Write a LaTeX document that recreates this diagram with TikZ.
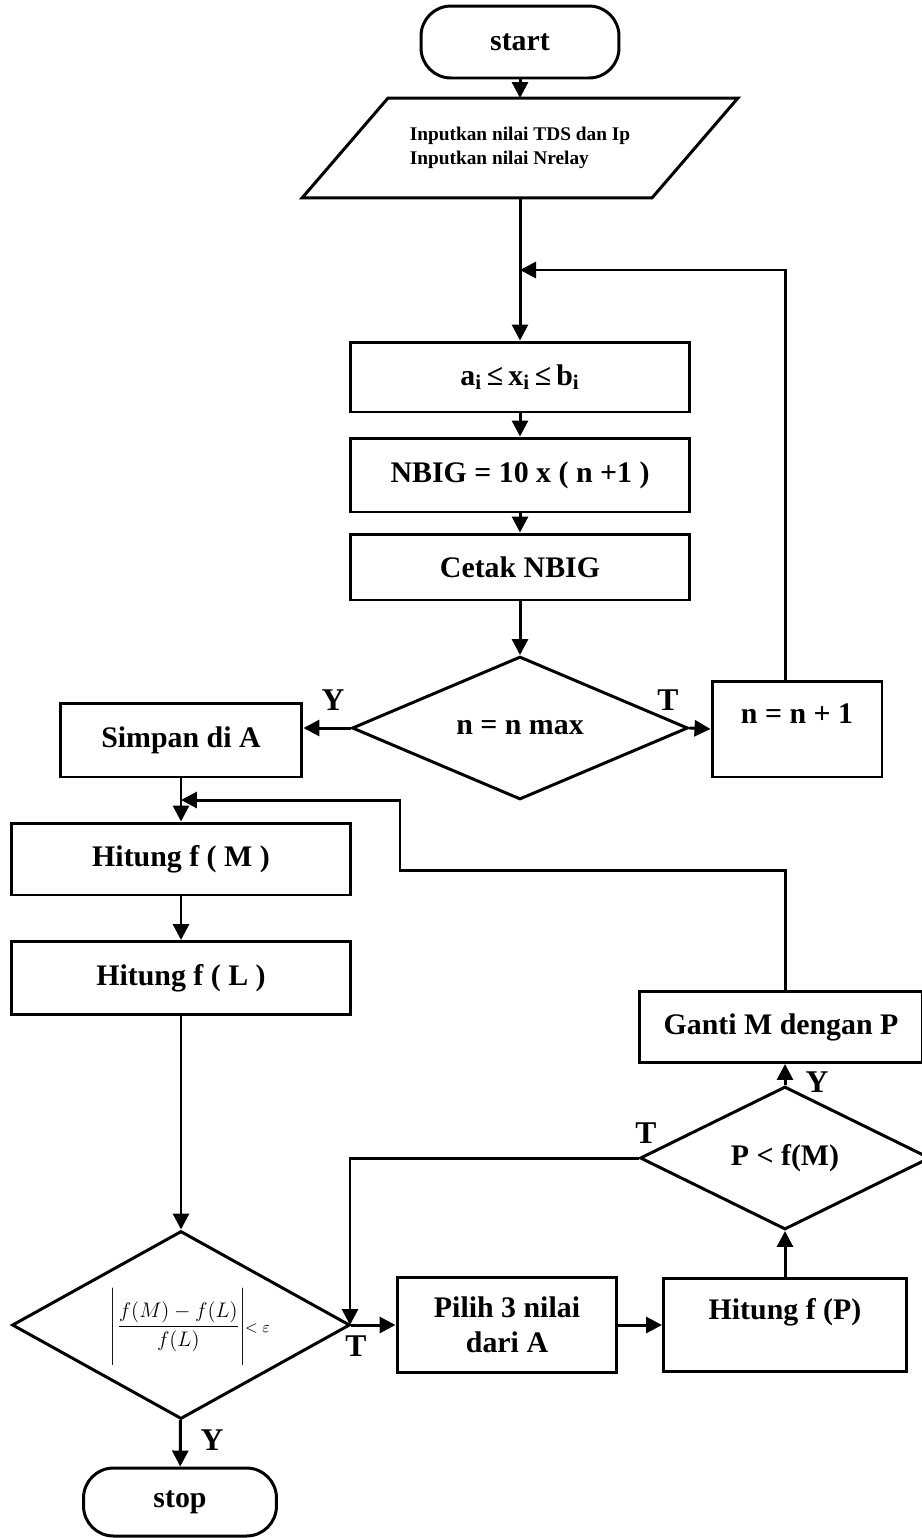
\documentclass[tikz,border=0pt]{standalone}
\usepackage{fontspec}
\setmainfont{Liberation Serif}
\usepackage{amsmath}
\usepackage{tikz}
\usetikzlibrary{positioning,shapes.geometric,arrows.meta,calc}

\begin{document}
\begin{tikzpicture}[
    x=0.02cm,y=-0.02cm,
    line width=1.7pt,
    >={Triangle[length=0.32cm,width=0.32cm]},
    every node/.style={font=\fontsize{17}{20}\selectfont\bfseries},
    process/.style={draw,fill=white,minimum width=6.8cm,minimum height=1.4cm,align=center,inner sep=2pt},
    terminal/.style={draw,rounded corners=0.6cm,minimum width=3.96cm,minimum height=1.44cm},
    decision/.style={diamond,draw,inner sep=1pt},
    io/.style={minimum width=6.94cm,minimum height=1.94cm,align=left,font=\fontsize{11}{13.5}\selectfont\bfseries},
    raised/.style={text height=0.42cm,text depth=0.66cm},
    lbl/.style={font=\fontsize{18}{20}\selectfont\bfseries,inner sep=0pt}
  ]
    \useasboundingbox (0,0) rectangle (922,1538);

    % main column
    \node[terminal] (start) at (520,42) {start};
    \node[io] (input) at (520,148) {Inputkan nilai TDS dan Ip\\Inputkan nilai Nrelay};
    \draw ($(input.south west)+(-43,0)$) -- ($(input.north west)+(43,0)$) -- ($(input.north east)+(43,0)$) -- ($(input.south east)+(-43,0)$) -- cycle;
    \node[process] (range) at (520,377) {a\textsubscript{i}\,≤\,x\textsubscript{i}\,≤\,b\textsubscript{i}};
    \node[process,minimum height=1.48cm] (nbig) at (520,475) {NBIG = 10 x ( n +1 )};
    \node[process,minimum height=1.32cm] (cetak) at (520,567) {Cetak NBIG};
    \node[decision,minimum width=6.72cm,minimum height=2.86cm,aspect=2.35] (nmax) at (520,728) {n = n max};
    \node[process,raised,minimum width=3.4cm,minimum height=1.92cm] (ninc) at (797,729) {n = n + 1};

    % left column
    \node[process,minimum width=4.84cm,minimum height=1.48cm] (simpan) at (181,740) {Simpan di A};
    \node[process,minimum height=1.44cm] (hitm) at (181,859) {Hitung f ( M )};
    \node[process,minimum height=1.46cm] (hitl) at (181,978) {Hitung f ( L )};
    \node[decision,minimum width=6.76cm,minimum height=3.76cm,aspect=1.8,font=\fontsize{13}{15}\selectfont] (conv) at (181,1325)
      {\hspace{0.35cm}\smash{\raisebox{-0.14cm}{$\left|\rule[-0.73cm]{0pt}{1.64cm}\dfrac{f(M)-f(L)}{f(L)}\right|$\kern-1pt{\small$<\varepsilon$}}}};
    \node[terminal,minimum width=3.86cm,minimum height=1.36cm] (stop) at (180,1502) {stop};

    % right part
    \node[process,minimum width=4.4cm,minimum height=1.9cm] (pilih) at (507,1325) {Pilih 3 nilai\\dari A};
    \node[process,raised,minimum width=4.86cm,minimum height=1.86cm] (hitp) at (785,1325) {Hitung f (P)};
    \node[decision,minimum width=5.8cm,minimum height=2.86cm,aspect=2] (pcek) at (785,1158) {P < f(M)};
    \node[process,minimum width=5.68cm,minimum height=1.42cm] (ganti) at (781,1027) {Ganti M dengan P};

    % branch labels
    \node[lbl] (y1) at (333,700) {Y};
    \node[lbl] (t1) at (668,700) {T};
    \node[lbl] (y2) at (212,1440) {Y};
    \node[lbl] (t2) at (356,1346) {T};
    \node[lbl] (t3) at (646,1133) {T};
    \node[lbl] (y3) at (817,1082) {Y};

    \coordinate (loopin) at (520,270);
    \coordinate (looptop) at (785,270);
    \coordinate (mjoin) at (181,800);
    \coordinate (bend) at (400,870);
    \coordinate (tjoin) at (350,1325);

    \draw[->] (start.south) -- (input.north);
    \draw[->] (input.south) -- (range.north);
    \draw[->] (range) -- (nbig);
    \draw[->] (nbig) -- (cetak);
    \draw[->] (cetak) -- (nmax);
    \draw[->] (nmax.west) -- (nmax.west -| simpan.east);
    \draw[->] (nmax.east) -- (ninc.west);
    \draw[->] (ninc.north -| looptop) -- (looptop) -- (loopin);
    \draw[->] (simpan) -- (hitm);
    \draw[->] (hitm) -- (hitl);
    \draw[->] (hitl) -- (conv);
    \draw[->] (conv) -- (stop);
    \draw[->] (conv.east) -- (pilih.west);
    \draw[->] (pilih) -- (hitp);
    \draw[->] (hitp) -- (pcek);
    \draw[->] (pcek.north) -- (pcek.north |- ganti.south);
    \draw[->] (pcek.west) -| (tjoin);
    \draw[->] (ganti.north -| pcek.north) |- (bend) |- (mjoin);
  \end{tikzpicture}
\end{document}
